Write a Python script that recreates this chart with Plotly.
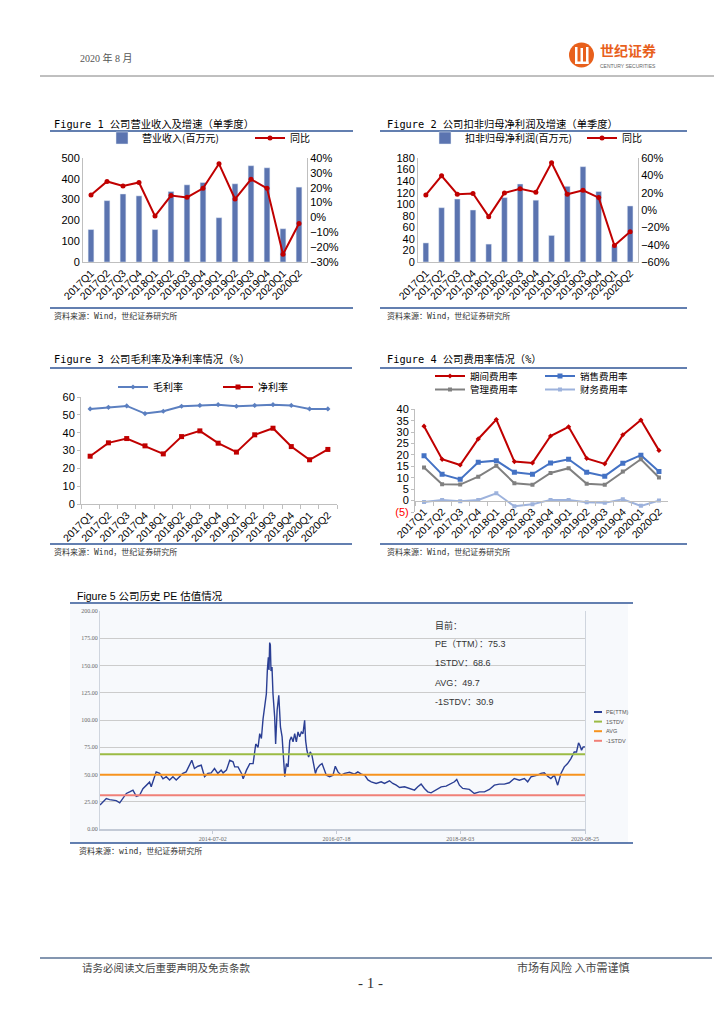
import plotly.graph_objects as go

W, H = 724, 1024
def px(v): return v / W
def py(v): return 1 - v / H

# ---------------- data ----------------
quarters = ["2017Q1", "2017Q2", "2017Q3", "2017Q4", "2018Q1", "2018Q2", "2018Q3",
            "2018Q4", "2019Q1", "2019Q2", "2019Q3", "2019Q4", "2020Q1", "2020Q2"]
revenue = [156, 295, 327, 318, 156, 339, 371, 382, 213, 376, 463, 453, 160, 360]
revenue_yoy = [15.1, 24.2, 21.2, 23.5, 0.9, 14.7, 13.5, 19.6, 36.1, 12.4, 25.7, 19.6, -24.8, -4.1]
profit = [33, 94, 109, 90, 31, 111.5, 135, 107, 46, 131, 165, 122, 27, 97]
profit_yoy = [17.4, 39.5, 18.2, 19.0, -7.7, 19.7, 24.4, 20.5, 54.6, 18.2, 22.8, 14.3, -41.0, -25.2]
gross_margin = [53.3, 54.2, 55.0, 50.7, 52.0, 54.8, 55.3, 55.7, 54.8, 55.3, 55.7, 55.3, 53.3, 53.3]
net_margin = [26.8, 34.3, 36.7, 32.6, 28.1, 37.8, 41.0, 34.1, 29.1, 38.8, 42.5, 32.2, 24.8, 30.6]
period_exp = [32.6, 18.1, 15.6, 27.0, 35.5, 17.1, 16.5, 28.3, 32.3, 18.5, 16.1, 28.8, 35.3, 22.0]
sales_exp = [19.6, 11.5, 9.3, 16.8, 17.5, 12.4, 11.5, 16.5, 18.1, 12.4, 10.7, 16.4, 19.9, 12.7]
admin_exp = [14.5, 7.2, 7.0, 10.5, 15.3, 7.6, 6.9, 12.1, 14.2, 7.4, 6.9, 12.7, 18.1, 10.1]
fin_exp = [-0.6, 0.3, -0.3, 0.3, 3.2, -2.5, -1.6, 0.3, 0.3, -0.7, -1.0, 0.6, -2.3, 0.0]
exp_ticks = [-5, 0, 5, 10, 15, 20, 25, 30, 35, 40]
exp_ticktext = ["<span style='color:#FF0000'>(5)</span>", "0", "5", "10", "15", "20", "25", "30", "35", "40"]

pe_dates = [
    "2012-08-20", "2012-09-07", "2012-09-27", "2012-10-17", "2012-11-06", "2012-11-26", "2012-12-17",
    "2013-01-06", "2013-01-26", "2013-02-15", "2013-03-07", "2013-03-27", "2013-04-16", "2013-05-06",
    "2013-05-26", "2013-06-15", "2013-06-25", "2013-07-15", "2013-07-25", "2013-08-15", "2013-09-04",
    "2013-09-24", "2013-10-14", "2013-11-03", "2013-11-23", "2013-12-13", "2014-01-02", "2014-01-22",
    "2014-02-11", "2014-02-25", "2014-03-13", "2014-04-03", "2014-04-23", "2014-05-13", "2014-06-02",
    "2014-06-22", "2014-07-12", "2014-08-01", "2014-08-21", "2014-09-02", "2014-09-22", "2014-10-12",
    "2014-11-01", "2014-11-11", "2014-12-01", "2014-12-22", "2015-01-01", "2015-01-21", "2015-02-10",
    "2015-03-02", "2015-03-18", "2015-04-01", "2015-04-11", "2015-04-21", "2015-05-01", "2015-05-11",
    "2015-05-21", "2015-05-27", "2015-06-02", "2015-06-06", "2015-06-10", "2015-06-14", "2015-06-18",
    "2015-06-24", "2015-06-30", "2015-07-10", "2015-07-16", "2015-07-25", "2015-08-04", "2015-08-14",
    "2015-08-24", "2015-09-03", "2015-09-09", "2015-09-19", "2015-09-29", "2015-10-09", "2015-10-19",
    "2015-10-29", "2015-11-08", "2015-11-18", "2015-11-28", "2015-12-08", "2015-12-18", "2015-12-28",
    "2016-01-07", "2016-01-13", "2016-01-21", "2016-01-31", "2016-02-10", "2016-02-20", "2016-03-02",
    "2016-03-12", "2016-03-22", "2016-04-07", "2016-04-21", "2016-05-07", "2016-05-17", "2016-06-06",
    "2016-06-26", "2016-07-10", "2016-07-26", "2016-08-15", "2016-09-04", "2016-10-04", "2016-11-03",
    "2016-11-23", "2016-12-14", "2017-01-03", "2017-01-23", "2017-02-12", "2017-03-14", "2017-04-13",
    "2017-05-03", "2017-06-02", "2017-06-22", "2017-07-13", "2017-08-02", "2017-09-01", "2017-10-01",
    "2017-10-31", "2017-11-20", "2017-12-10", "2017-12-30", "2018-01-19", "2018-02-08", "2018-03-11",
    "2018-04-10", "2018-05-10", "2018-06-09", "2018-06-29", "2018-07-13", "2018-07-29", "2018-08-18",
    "2018-09-27", "2018-10-27", "2018-11-27", "2018-12-27", "2019-01-26", "2019-02-25", "2019-03-27",
    "2019-04-26", "2019-05-26", "2019-06-25", "2019-07-26", "2019-08-25", "2019-09-14", "2019-10-04",
    "2019-10-24", "2019-11-13", "2019-12-03", "2019-12-23", "2020-01-12", "2020-02-01", "2020-02-22",
    "2020-03-13", "2020-04-02", "2020-04-22", "2020-05-12", "2020-06-01", "2020-06-21", "2020-07-05",
    "2020-07-17", "2020-07-25", "2020-08-04", "2020-08-14", "2020-08-25"]
pe_values = [
    22, 25, 28, 27, 26.5, 26, 24,
    28, 32.6, 34, 35.7, 30, 31, 37,
    40, 43, 38.7, 48, 52.4, 51, 46,
    48, 45, 48, 45, 48, 51, 52.4,
    58.5, 63, 55.5, 57.6, 58.5, 48, 51,
    51.5, 55.5, 51, 54, 51.5, 54, 63,
    61.6, 57, 57, 51, 46, 54, 60,
    60, 78, 75, 87.5, 83, 101, 112,
    124, 146, 157.6, 146, 171, 169, 145,
    148.5, 124, 103, 78, 109, 122.6, 93.6,
    84.5, 60, 48, 60, 57, 81, 84.5,
    80, 87.5, 80, 89, 84.5, 89, 87.5,
    99.7, 81, 72, 66, 70.7, 67.7, 57,
    51, 55.5, 58.5, 60, 54, 49.4, 48,
    49.4, 57.6, 52.4, 49.4, 51, 52, 50.3,
    52.4, 50.3, 49.4, 45, 43.3, 41.8, 43.3,
    41.8, 44.2, 41.8, 40.2, 38.1, 38.7, 37.2,
    35.7, 38.7, 41.2, 37.2, 34.1, 33.2, 35.7,
    38.7, 39.3, 41.8, 43.3, 45.4, 40.2, 37.2,
    36.3, 32.6, 34.1, 34.1, 36.3, 40.2, 41.2,
    41.2, 42.4, 46.3, 44.8, 46.3, 43.3, 47.9,
    48.5, 49.4, 51, 51.5, 48.5, 46.3, 49.4,
    40.2, 51, 57, 60, 64.6, 70.7, 70.7,
    79, 76.8, 72.3, 75.3, 75.3]
pe_start, pe_end = "2012-08-20", "2020-08-25"
pe_levels = {"1STDV": 68.6, "AVG": 49.7, "-1STDV": 30.9}
pe_current = 75.3
pe_tickdates = ["2014-07-02", "2016-07-18", "2018-08-03", "2020-08-25"]

# ---------------- styles ----------------
SANS = "Liberation Sans, Arial, Noto Sans CJK SC"
CJK = "Noto Sans CJK SC"
MONO = "DejaVu Sans Mono, Noto Sans CJK SC"
SERIF = "Liberation Serif, Noto Sans CJK SC"
AX = "#BFBFBF"
RED = "#C00000"
BAR = "#5B74B0"
TF = dict(family=SANS, size=10.5, color="#000000")

fig = go.Figure()

# Chart 1
fig.add_trace(go.Bar(x=quarters, y=revenue, name="营业收入(百万元)", marker_color=BAR, width=0.36,
                     xaxis="x", yaxis="y", legend="legend"))
fig.add_trace(go.Scatter(x=quarters, y=revenue_yoy, name="同比", mode="lines+markers",
                         line=dict(color=RED, width=2), marker=dict(size=5, color=RED),
                         xaxis="x", yaxis="y2", legend="legend"))
# Chart 2
fig.add_trace(go.Bar(x=quarters, y=profit, name="扣非归母净利润(百万元)", marker_color=BAR, width=0.36,
                     xaxis="x2", yaxis="y3", legend="legend2"))
fig.add_trace(go.Scatter(x=quarters, y=profit_yoy, name="同比", mode="lines+markers",
                         line=dict(color=RED, width=2), marker=dict(size=5, color=RED),
                         xaxis="x2", yaxis="y4", legend="legend2"))
# Chart 3
fig.add_trace(go.Scatter(x=quarters, y=gross_margin, name="毛利率", mode="lines+markers",
                         line=dict(color="#5B7FC0", width=2), marker=dict(size=4, symbol="diamond", color="#5B7FC0"),
                         xaxis="x3", yaxis="y5", legend="legend3"))
fig.add_trace(go.Scatter(x=quarters, y=net_margin, name="净利率", mode="lines+markers",
                         line=dict(color=RED, width=2), marker=dict(size=5, symbol="square", color=RED),
                         xaxis="x3", yaxis="y5", legend="legend3"))
# Chart 4
fig.add_trace(go.Scatter(x=quarters, y=period_exp, name="期间费用率", mode="lines+markers",
                         line=dict(color=RED, width=2), marker=dict(size=4, symbol="diamond", color=RED),
                         xaxis="x4", yaxis="y6", legend="legend4"))
fig.add_trace(go.Scatter(x=quarters, y=sales_exp, name="销售费用率", mode="lines+markers",
                         line=dict(color="#4472C4", width=2), marker=dict(size=5, symbol="square", color="#4472C4"),
                         xaxis="x4", yaxis="y6", legend="legend4"))
fig.add_trace(go.Scatter(x=quarters, y=admin_exp, name="管理费用率", mode="lines+markers",
                         line=dict(color="#808080", width=2), marker=dict(size=4, symbol="square", color="#808080"),
                         xaxis="x4", yaxis="y6", legend="legend6"))
fig.add_trace(go.Scatter(x=quarters, y=fin_exp, name="财务费用率", mode="lines+markers",
                         line=dict(color="#9DB2DC", width=2), marker=dict(size=4, symbol="square", color="#9DB2DC"),
                         xaxis="x4", yaxis="y6", legend="legend6"))
# Chart 5
fig.add_trace(go.Scatter(x=pe_dates, y=pe_values, name="PE(TTM)", mode="lines",
                         line=dict(color="#2B3F94", width=1.4), xaxis="x5", yaxis="y7", showlegend=False))
level_colors = {"1STDV": "#9BBB45", "AVG": "#F7931E", "-1STDV": "#F08078"}
for k, v in pe_levels.items():
    fig.add_trace(go.Scatter(x=[pe_start, pe_end], y=[v, v], name=k, mode="lines",
                             line=dict(color=level_colors[k], width=2), xaxis="x5", yaxis="y7", showlegend=False))

# ---------------- axes ----------------
cat = dict(type="category", range=[-0.5, 13.5], tickangle=-45, tickfont=TF, showgrid=False,
           showline=True, linecolor=AX, zeroline=False, automargin=False)
val = dict(showgrid=False, zeroline=False, showline=True, linecolor=AX, automargin=False,
           tickfont=dict(family=SANS, size=11, color="#000"))

y4_dom = [py(512), py(409.3)]
x4_pos = y4_dom[0] + (y4_dom[1] - y4_dom[0]) * (0 - exp_ticks[0]) / (exp_ticks[-1] - exp_ticks[0])

fig.update_layout(
    width=W, height=H, autosize=False,
    margin=dict(l=0, r=0, t=0, b=0, pad=0, autoexpand=False),
    paper_bgcolor="white", plot_bgcolor="rgba(0,0,0,0)",
    xaxis=dict(cat, domain=[px(83), px(307)], anchor="y", ticks=""),
    yaxis=dict(val, domain=[py(262), py(158)], anchor="x", range=[0, 500], dtick=100),
    yaxis2=dict(val, overlaying="y", anchor="x", side="right", range=[-30, 40], dtick=10, ticksuffix="%"),
    xaxis2=dict(cat, domain=[px(418), px(638)], anchor="y3", ticks=""),
    yaxis3=dict(val, domain=[py(262), py(158)], anchor="x2", range=[0, 180], dtick=20),
    yaxis4=dict(val, overlaying="y3", anchor="x2", side="right", range=[-60, 60], dtick=20, ticksuffix="%"),
    xaxis3=dict(cat, domain=[px(81), px(337)], anchor="y5", ticks="outside", tickson="boundaries",
                ticklen=4, tickcolor=AX),
    yaxis5=dict(val, domain=[py(504), py(397)], anchor="x3", range=[0, 60], dtick=10,
                ticks="outside", ticklen=3, tickcolor=AX),
    xaxis4=dict(cat, domain=[px(415), px(668)], anchor="free", position=x4_pos, ticks="outside",
                tickson="boundaries", ticklen=4, tickcolor=AX),
    yaxis6=dict(val, domain=y4_dom, anchor="x4", range=[exp_ticks[0], exp_ticks[-1]],
                tickvals=exp_ticks, ticktext=exp_ticktext, ticks="outside", ticklen=3, tickcolor=AX),
    xaxis5=dict(type="date", domain=[px(100), px(585)], anchor="y7", range=[pe_start, pe_end],
                tickvals=pe_tickdates, ticktext=pe_tickdates, showgrid=False, showline=True, automargin=False,
                linecolor="#C3CAD6", linewidth=2, ticks="outside", ticklen=3, tickcolor="#C3CAD6",
                tickfont=dict(family=SERIF, size=6, color="#666")),
    yaxis7=dict(domain=[py(829), py(611)], anchor="x5", range=[0, 200], dtick=25, tickformat=".2f",
                showgrid=True, gridcolor="#CCCCCC", gridwidth=1, zeroline=False, showline=True, automargin=False,
                linecolor="#CFD5DE", mirror=True, tickfont=dict(family=SERIF, size=6, color="#666")),
)

leg = dict(orientation="h", xanchor="left", yanchor="middle", bgcolor="rgba(0,0,0,0)",
           font=dict(family=CJK, size=10, color="#000"), entrywidthmode="pixels")
fig.update_layout(
    legend=dict(leg, x=px(102), y=py(138), entrywidth=103),
    legend2=dict(leg, x=px(425), y=py(138), entrywidth=112),
    legend3=dict(leg, x=px(113), y=py(387), entrywidth=60),
    legend4=dict(leg, x=px(430), y=py(376), entrywidth=65, font=dict(family=CJK, size=9.5, color="#000")),
    legend6=dict(leg, x=px(430), y=py(389.5), entrywidth=65, font=dict(family=CJK, size=9.5, color="#000")),
)

# ---------------- decorations ----------------
shapes = []
def hline(x0, x1, y, color, w):
    shapes.append(dict(type="line", xref="paper", yref="paper", x0=px(x0), x1=px(x1), y0=py(y), y1=py(y),
                       line=dict(color=color, width=w)))

# chart 5 background box
shapes.append(dict(type="rect", xref="paper", yref="paper", x0=px(70), x1=px(628), y0=py(843), y1=py(604),
                   fillcolor="#F7F9FC", line=dict(width=0), layer="below"))
hline(40, 714, 76, "#808080", 1)
hline(50, 353, 131, "#2F5496", 1.5)
hline(50, 353, 308, "#2F5496", 1.5)
hline(380, 687, 131, "#2F5496", 1.5)
hline(380, 687, 308, "#2F5496", 1.5)
hline(50, 352, 368, "#2F5496", 1.5)
hline(50, 352, 544, "#2F5496", 1.5)
hline(380, 687, 368, "#2F5496", 1.5)
hline(380, 687, 544, "#2F5496", 1.5)
hline(70, 633, 603, "#2F5496", 1.5)
hline(70, 633, 843, "#2F5496", 1.5)
hline(40, 712, 958, "#8496B0", 2)

# logo
shapes.append(dict(type="circle", xref="paper", yref="paper", x0=px(569), x1=px(594), y0=py(67.5), y1=py(42.5),
                   fillcolor="#E8601C", line=dict(width=0)))
for x0, x1, y0, y1 in [(575, 577.5, 64, 47), (580.5, 583, 64, 48), (586, 588.5, 64, 47), (575, 588.5, 64, 61.5)]:
    shapes.append(dict(type="rect", xref="paper", yref="paper", x0=px(x0), x1=px(x1), y0=py(y0), y1=py(y1),
                       fillcolor="white", line=dict(width=0)))

# chart 5 manual legend
leg5 = [("PE(TTM)", "#2B3F94"), ("1STDV", level_colors["1STDV"]), ("AVG", level_colors["AVG"]),
        ("-1STDV", level_colors["-1STDV"])]
for i, (nm, colr) in enumerate(leg5):
    yy = 712 + i * 9.6
    shapes.append(dict(type="line", xref="paper", yref="paper", x0=px(594), x1=px(602), y0=py(yy), y1=py(yy),
                       line=dict(color=colr, width=2)))

fig.update_layout(shapes=shapes)

ann = []
def text(x, y, s, size, family=CJK, color="#000", xanchor="left"):
    ann.append(dict(xref="paper", yref="paper", x=px(x), y=py(y), text=s, showarrow=False,
                    xanchor=xanchor, yanchor="middle", font=dict(family=family, size=size, color=color)))

text(78, 58, "2020 年 8 月", 10, SERIF, "#555")
text(598, 50, "<b>世纪证券</b>", 14, CJK, "#E8601C")
text(598, 66, "CENTURY SECURITIES", 5, SANS, "#666")

text(52, 124, "Figure 1 公司营业收入及增速（单季度）", 10.3, MONO)
text(385, 124, "Figure 2 公司扣非归母净利润及增速（单季度）", 10.3, MONO)
text(52, 359, "Figure 3 公司毛利率及净利率情况（%）", 10.3, MONO)
text(385, 359, "Figure 4 公司费用率情况（%）", 10.3, MONO)
text(75, 596, "Figure 5 公司历史 PE 估值情况", 10.5, SANS)

text(52, 316, "资料来源：Wind，世纪证券研究所", 8, MONO, "#333")
text(385, 316, "资料来源：Wind，世纪证券研究所", 8, MONO, "#333")
text(52, 552, "资料来源：Wind，世纪证券研究所", 8, MONO, "#333")
text(385, 552, "资料来源：Wind，世纪证券研究所", 8, MONO, "#333")
text(77, 851, "资料来源：wind，世纪证券研究所", 8, MONO, "#333")

text(433, 625, "目前：", 9, CJK, "#333")
text(433, 644, f"PE（TTM）：{pe_current}", 9, SANS, "#333")
text(433, 663, f"1STDV：{pe_levels['1STDV']}", 9, SANS, "#333")
text(433, 683, f"AVG：{pe_levels['AVG']}", 9, SANS, "#333")
text(433, 702, f"-1STDV：{pe_levels['-1STDV']}", 9, SANS, "#333")
for i, (nm, colr) in enumerate(leg5):
    text(604, 712 + i * 9.6, nm, 5.5, SANS, "#555")

text(80, 967, "请务必阅读文后重要声明及免责条款", 10.5, CJK, "#444")
text(515, 967, "市场有风险 入市需谨慎", 11, CJK, "#444")
text(370, 983, "- 1 -", 15, SERIF, "#333", xanchor="center")

fig.update_layout(annotations=ann)

fig.write_html("out.html", config={"displayModeBar": False},
               post_script="document.body.style.margin='0px';document.body.style.overflow='hidden';")
